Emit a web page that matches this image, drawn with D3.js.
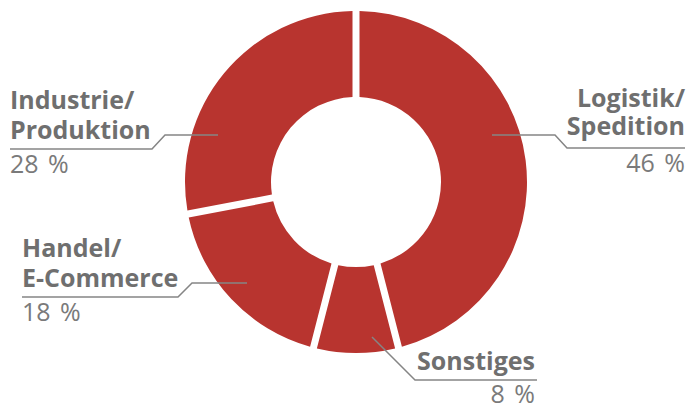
<!DOCTYPE html>
<html>
<head>
<meta charset="utf-8">
<script src="https://cdn.jsdelivr.net/npm/d3@7"></script>
<style>
    html, body { margin: 0; padding: 0; background: #fff; }
    svg { display: block; }
    .name { font-family: 'Open Sans', sans-serif; font-weight: bold; font-size: 25px; fill: #6f6f6f; }
    .pct { font-family: 'Open Sans', sans-serif; font-size: 25px; fill: #7a7a7a; word-spacing: 3px; }
    .leader { fill: none; stroke: #858585; stroke-width: 1.5px; }
</style>
</head>
<body>
<div id="chart"></div>
<script>
    // data
    var categories = ["Logistik/\nSpedition", "Sonstiges", "Handel/\nE-Commerce", "Industrie/\nProduktion"];
    var shares = [46, 8, 18, 28];
    var pctLabels = ["46 %", "8 %", "18 %", "28 %"];

    var width = 689, height = 406;
    var cx = 356, cy = 182, outerR = 171, innerR = 85;

    // label layout: text anchor, x, first baseline, line gap, leader path
    var layout = [
        {anchor: "end",   x: 685, y: 107, gap: 28, path: [[492,135],[555,135],[567,148],[685,148]]},
        {anchor: "end",   x: 535, y: 370, gap: 30, path: [[372,337],[415,380],[537,380]]},
        {anchor: "start", x: 22,  y: 257, gap: 30, path: [[247,283],[192,283],[178,297],[22,297]]},
        {anchor: "start", x: 10,  y: 109, gap: 30, path: [[218,135],[165,135],[152,149],[10,149]]}
    ];

    var svg = d3.select("#chart").append("svg")
        .attr("width", width)
        .attr("height", height);

    var pie = d3.pie().sort(null).value(d => d);
    var arc = d3.arc()
        .innerRadius(innerR)
        .outerRadius(outerR)
        .padAngle(7 / outerR)
        .padRadius(outerR);

    svg.append("g")
        .attr("transform", "translate(" + cx + "," + cy + ")")
        .selectAll("path")
        .data(pie(shares))
        .join("path")
        .attr("d", arc)
        .attr("fill", "#b8342f");

    var line = d3.line();
    categories.forEach(function(c, i) {
        var l = layout[i];
        svg.append("path").attr("class", "leader").attr("d", line(l.path));

        var lines = c.split("\n");
        var t = svg.append("text").attr("class", "name").attr("text-anchor", l.anchor);
        lines.forEach(function(s, j) {
            t.append("tspan").attr("x", l.x).attr("y", l.y + j * l.gap).text(s);
        });
        var pctY = Math.min(l.path[l.path.length - 1][1] + 24, 403);
        svg.append("text").attr("class", "pct")
            .attr("text-anchor", l.anchor)
            .attr("x", l.x).attr("y", pctY)
            .text(pctLabels[i]);
    });
</script>
</body>
</html>
